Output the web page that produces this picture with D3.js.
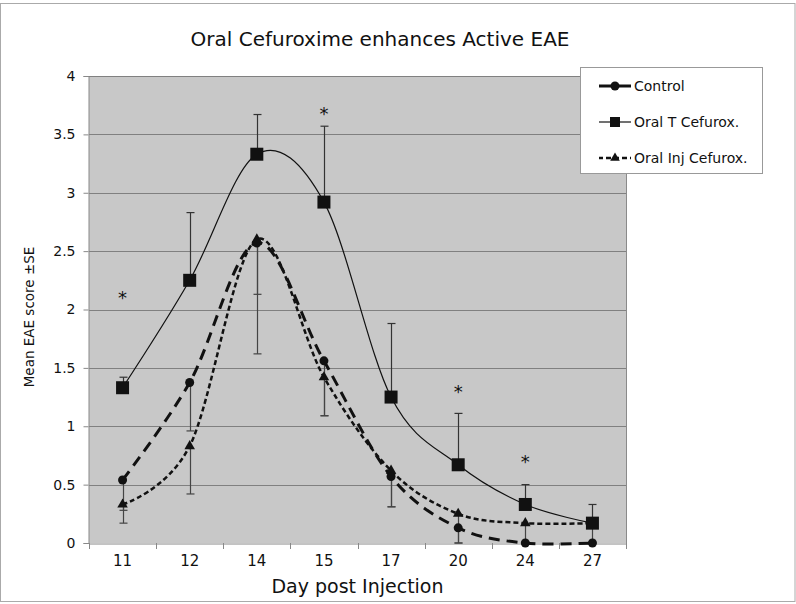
<!DOCTYPE html>
<html><head><meta charset="utf-8">
<script src="https://cdn.jsdelivr.net/npm/d3@7"></script>
<style>body{margin:0;background:#fff}svg{display:block}text{font-family:"DejaVu Sans",sans-serif;fill:#111}</style>
</head><body>
<svg id="c" width="796" height="604"></svg>
<script>
const days = ["11","12","14","15","17","20","24","27"];
const control = [0.54, 1.375, 2.57, 1.56, 0.57, 0.13, 0, 0];
const oralT = [1.33, 2.25, 3.33, 2.92, 1.25, 0.67, 0.33, 0.17];
const oralInj = [0.33, 0.83, 2.6, 1.42, 0.62, 0.25, 0.17, 0.17];
const oralTErrUp = [0.09, 0.58, 0.34, 0.65, 0.63, 0.44, 0.17, 0.16];
const controlErrDown = [0.26, 0.415, 0.44, 0.47, 0.26, 0.13, 0, 0];
const oralInjErrDown = [0.16, 0.41, 0.98, 0.33, 0.31, 0.25, 0.17, 0.17];
const starDays = ["11","15","20","24"];
const starValues = [2.12, 3.7, 1.32, 0.72];
const yTicks = [0,0.5,1,1.5,2,2.5,3,3.5,4];

const svg = d3.select("#c");
const L=89, R=626, T=76, B=543;
const x = d3.scaleBand().domain(days).range([L,R]);
const xc = d => x(d)+x.bandwidth()/2;
const y = d3.scaleLinear().domain([0,4]).range([B,T]);

// outer frame
svg.append("rect").attr("x",0.5).attr("y",3.5).attr("width",794.5).attr("height",598).attr("fill","#fff").attr("stroke","#aaa");

// plot bg
svg.append("rect").attr("x",L).attr("y",T).attr("width",R-L).attr("height",B-T).attr("fill","#c8c8c8");
// gridlines
svg.append("g").selectAll("line").data(yTicks.slice(1)).join("line")
  .attr("x1",L).attr("x2",R).attr("y1",d=>Math.round(y(d))+0.5).attr("y2",d=>Math.round(y(d))+0.5)
  .attr("stroke","#808080").attr("stroke-width",1);
svg.append("line").attr("x1",R+0.5).attr("x2",R+0.5).attr("y1",T).attr("y2",B).attr("stroke","#8a8a8a");

// axes
const xAxis = svg.append("g").attr("transform",`translate(0,${B+0.5})`)
  .call(d3.axisBottom(x).tickSize(0).tickPadding(12));
xAxis.select(".domain").attr("stroke","#888");
xAxis.selectAll("text").attr("font-size",15).attr("font-family","DejaVu Sans").attr("fill","#111");
// boundary ticks
const bounds = days.map(d=>x(d)).concat([R]);
svg.append("g").selectAll("line").data(bounds).join("line")
  .attr("x1",d=>Math.round(d)+0.5).attr("x2",d=>Math.round(d)+0.5).attr("y1",B).attr("y2",B+6).attr("stroke","#888");

const yAxis = svg.append("g").attr("transform",`translate(${L-0.5},0)`)
  .call(d3.axisLeft(y).tickValues(yTicks).tickFormat(d3.format("")).tickSize(5).tickPadding(8));
yAxis.select(".domain").attr("stroke","#888");
yAxis.selectAll(".tick line").attr("stroke","#888");
yAxis.selectAll("text").attr("font-size",14).attr("font-family","DejaVu Sans").attr("fill","#111");

// lines
const curve = d3.curveCatmullRom.alpha(0);
const lineGen = arr => d3.line().x((v,i)=>xc(days[i])).y(v=>y(v)).curve(curve)(arr);
const clip = svg.append("clipPath").attr("id","pc").append("rect").attr("x",L).attr("y",T-20).attr("width",R-L).attr("height",B-T+20);

// error bars
function errBars(vals, errs, dir, color){
  const g = svg.append("g").attr("stroke",color).attr("stroke-width",1.2);
  vals.forEach((v,i)=>{
    if(errs[i]<=0) return;
    const cx = Math.round(xc(days[i]))+0.5;
    const e = dir>0 ? v+errs[i] : v-errs[i];
    g.append("line").attr("x1",cx).attr("x2",cx).attr("y1",y(v)).attr("y2",y(e));
    g.append("line").attr("x1",cx-4).attr("x2",cx+4).attr("y1",y(e)).attr("y2",y(e));
  });
}
errBars(oralT, oralTErrUp, 1, "#333");
errBars(control, controlErrDown, -1, "#444");
errBars(oralInj, oralInjErrDown, -1, "#444");

svg.append("path").attr("d",lineGen(oralT)).attr("fill","none").attr("stroke","#111").attr("stroke-width",1.2);
svg.append("path").attr("d",lineGen(oralInj)).attr("fill","none").attr("stroke","#111").attr("stroke-width",2.5).attr("stroke-dasharray","5,3");
svg.append("path").attr("d",lineGen(control)).attr("fill","none").attr("stroke","#111").attr("stroke-width",3).attr("stroke-dasharray","11,7");

// markers
svg.append("g").selectAll("path").data(oralInj).join("path")
  .attr("transform",(v,i)=>`translate(${xc(days[i])},${y(v)})`)
  .attr("d",d3.symbol(d3.symbolTriangle,48)()).attr("fill","#111");
svg.append("g").selectAll("circle").data(control).join("circle")
  .attr("cx",(v,i)=>xc(days[i])).attr("cy",v=>y(v)).attr("r",4.5).attr("fill","#111");
svg.append("g").selectAll("rect").data(oralT).join("rect")
  .attr("x",(v,i)=>xc(days[i])-6.5).attr("y",v=>y(v)-6.5).attr("width",13).attr("height",13).attr("fill","#111");

// stars
svg.append("g").selectAll("text").data(starValues).join("text")
  .attr("x",(v,i)=>xc(starDays[i])).attr("y",v=>y(v)+9).attr("text-anchor","middle")
  .attr("font-size",18).text("*");

// title & labels
svg.append("text").attr("x",380).attr("y",46).attr("text-anchor","middle").attr("font-size",20).text("Oral Cefuroxime enhances Active EAE");
svg.append("text").attr("x",(L+R)/2).attr("y",593).attr("text-anchor","middle").attr("font-size",19).text("Day post Injection");
svg.append("text").attr("transform","translate(34,317) rotate(-90)").attr("text-anchor","middle").attr("font-size",13.5).text("Mean EAE score ±SE");

// legend
const lg = svg.append("g");
lg.append("rect").attr("x",580.5).attr("y",67.5).attr("width",182).attr("height",106).attr("fill","#fff").attr("stroke","#999");
const legendItems = [
  {name:"Control", w:3, dash:null, sym:"c"},
  {name:"Oral T Cefurox.", w:1.2, dash:null, sym:"s"},
  {name:"Oral Inj Cefurox.", w:2.5, dash:"5,3", sym:"t"}
];
const ly = [86,122,158];
legendItems.forEach((it,i)=>{
  const yy = ly[i];
  const ln = lg.append("line").attr("x1",599).attr("x2",631).attr("y1",yy).attr("y2",yy).attr("stroke","#111").attr("stroke-width",it.w);
  if(it.dash) ln.attr("stroke-dasharray",it.dash).attr("stroke-dashoffset",1);
  if(it.sym==="c") lg.append("circle").attr("cx",615).attr("cy",yy).attr("r",4.5).attr("fill","#111");
  if(it.sym==="s") lg.append("rect").attr("x",610).attr("y",yy-5).attr("width",10).attr("height",10).attr("fill","#111");
  if(it.sym==="t") lg.append("path").attr("transform",`translate(615,${yy})`).attr("d",d3.symbol(d3.symbolTriangle,40)()).attr("fill","#111");
  lg.append("text").attr("x",634).attr("y",yy+5).attr("font-size",14).text(it.name);
});
</script>
</body></html>
